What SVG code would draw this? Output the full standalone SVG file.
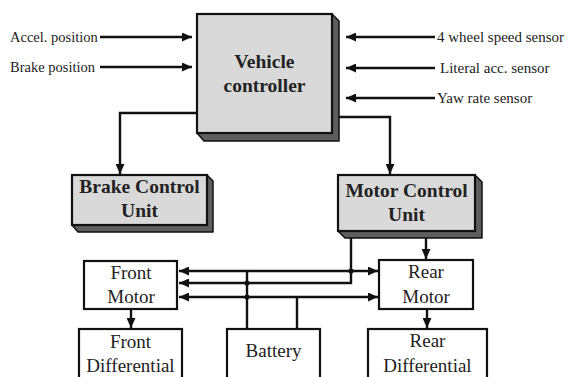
<svg xmlns="http://www.w3.org/2000/svg" width="565" height="377" viewBox="0 0 565 377">
<style>
.face{fill:#d9d9d9;stroke:#111;stroke-width:2.2}
.shade{fill:#5e5e5e;stroke:#111;stroke-width:1.5;stroke-linejoin:round}
.box{fill:#fff;stroke:#111;stroke-width:2.2}
.ln{fill:none;stroke:#111;stroke-width:2.4}
text{font-family:'Liberation Serif','Times New Roman',Tinos,Times,'DejaVu Serif',serif;fill:#222}
.lbl{font-size:14.5px}
.lbr{font-size:15px}
.bt{font-size:19.5px;font-weight:bold;text-anchor:middle}
.nt{font-size:19px;text-anchor:middle}
</style>
<defs>
<marker id="ah" markerUnits="userSpaceOnUse" markerWidth="11" markerHeight="9" refX="10" refY="4.5" orient="auto">
<path d="M0,0 L10,4.5 L0,9 z" fill="#111"/>
</marker>
</defs>
<rect width="565" height="377" fill="#fff"/>

<g id="vehicle-controller">
<path class="shade" d="M332,14 L339,21 L339,141 L204,141 L197,133 L332,133 z"/>
<rect class="face" x="197" y="14" width="135" height="119"/>
<text class="bt" x="264.5" y="68">Vehicle</text>
<text class="bt" x="264.5" y="92">controller</text>
</g>

<g id="brake-control-unit">
<path class="shade" d="M207,175 L213,181 L213,232 L78,232 L72,225 L207,225 z"/>
<rect class="face" x="72" y="175" width="135" height="50"/>
<text class="bt" x="139.5" y="193">Brake Control</text>
<text class="bt" x="139.5" y="217">Unit</text>
</g>

<g id="motor-control-unit">
<path class="shade" d="M475,175 L482,182 L482,238 L345,238 L338,231 L475,231 z"/>
<rect class="face" x="338" y="175" width="137" height="56"/>
<text class="bt" x="406.5" y="197">Motor Control</text>
<text class="bt" x="406.5" y="221">Unit</text>
</g>

<g id="front-motor">
<rect class="box" x="84" y="261" width="93" height="48"/>
<text class="nt" x="131" y="279">Front</text>
<text class="nt" x="131" y="303">Motor</text>
</g>

<g id="rear-motor">
<rect class="box" x="379" y="260" width="94" height="49"/>
<text class="nt" x="426" y="278">Rear</text>
<text class="nt" x="426" y="303">Motor</text>
</g>

<g id="front-differential">
<rect class="box" x="79" y="329" width="103" height="52"/>
<text class="nt" x="130.5" y="348">Front</text>
<text class="nt" x="130.5" y="372">Differential</text>
</g>

<g id="battery">
<rect class="box" x="227" y="329" width="93" height="52"/>
<text class="nt" x="273.5" y="357">Battery</text>
</g>

<g id="rear-differential">
<rect class="box" x="368" y="329" width="119" height="52"/>
<text class="nt" x="427.5" y="347">Rear</text>
<text class="nt" x="427.5" y="372">Differential</text>
</g>

<g id="labels">
<text class="lbl" x="10" y="42">Accel. position</text>
<text class="lbl" x="10" y="72">Brake position</text>
<text class="lbr" x="437" y="42">4 wheel speed sensor</text>
<text class="lbr" x="440" y="73">Literal acc. sensor</text>
<text class="lbr" x="437" y="103">Yaw rate sensor</text>
</g>

<g id="connectors">
<line class="ln" x1="100" y1="37" x2="192" y2="37" marker-end="url(#ah)"/>
<line class="ln" x1="100" y1="67" x2="192" y2="67" marker-end="url(#ah)"/>
<line class="ln" x1="435" y1="37" x2="346" y2="37" marker-end="url(#ah)"/>
<line class="ln" x1="435" y1="68" x2="346" y2="68" marker-end="url(#ah)"/>
<line class="ln" x1="435" y1="98" x2="346" y2="98" marker-end="url(#ah)"/>
<path class="ln" d="M197,113 H120 V174" marker-end="url(#ah)"/>
<path class="ln" d="M339,117 H390 V174" marker-end="url(#ah)"/>
<line class="ln" x1="426" y1="238" x2="426" y2="259" marker-end="url(#ah)"/>
<line class="ln" x1="427" y1="309" x2="427" y2="328" marker-end="url(#ah)"/>
<line class="ln" x1="131" y1="309" x2="131" y2="328" marker-end="url(#ah)"/>
<line class="ln" x1="280" y1="271" x2="179" y2="271" marker-end="url(#ah)"/>
<line class="ln" x1="280" y1="271" x2="378" y2="271" marker-end="url(#ah)"/>
<path class="ln" d="M351,238 V283 H179" marker-end="url(#ah)"/>
<line class="ln" x1="280" y1="297" x2="179" y2="297" marker-end="url(#ah)"/>
<line class="ln" x1="280" y1="297" x2="378" y2="297" marker-end="url(#ah)"/>
<line class="ln" x1="247" y1="271" x2="247" y2="329"/>
<line class="ln" x1="297" y1="297" x2="297" y2="329"/>
<circle cx="247" cy="283" r="2.6" fill="#111"/>
<circle cx="247" cy="297" r="2.6" fill="#111"/>
<circle cx="351" cy="271" r="2.6" fill="#111"/>
</g>
</svg>
